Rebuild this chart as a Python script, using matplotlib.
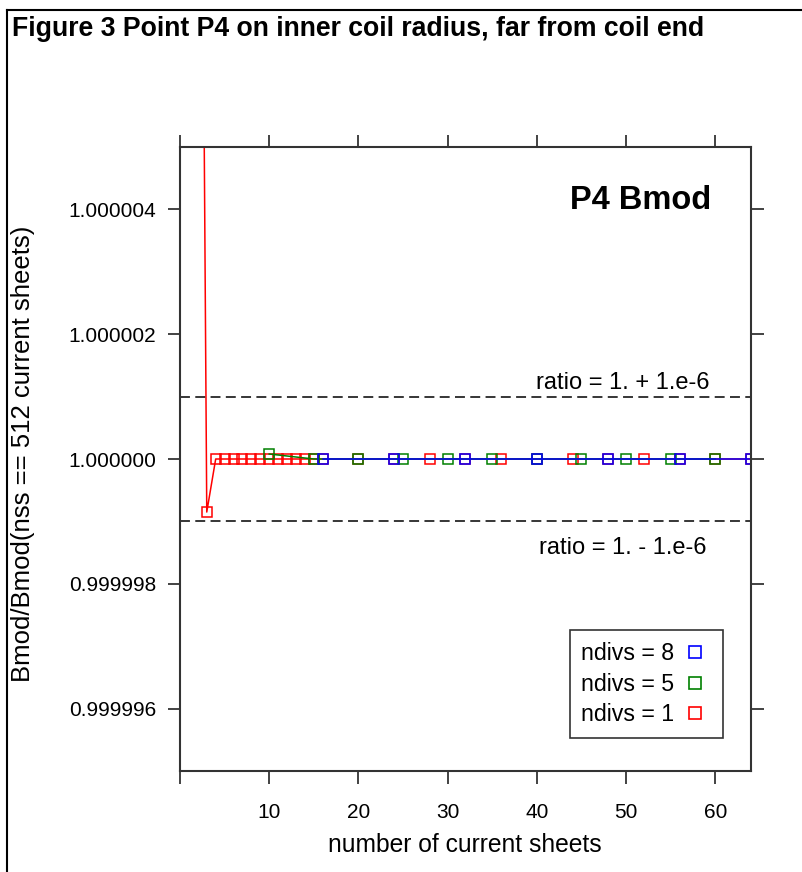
import matplotlib
matplotlib.use("Agg")
from matplotlib import pyplot as plt
from matplotlib.lines import Line2D

plt.rcParams['font.family'] = ['Liberation Sans', 'DejaVu Sans']

# ndivs = 1 (red): every sheet count up to 16, then every 4th
x_nd1 = [2, 3, 4, 5, 6, 7, 8, 9, 10, 11, 12, 13, 14, 15, 16,
         20, 24, 28, 32, 36, 40, 44, 48, 52, 56, 60, 64]
y_nd1 = [1.00002, 0.99999915, 1.0000000, 1.0000000, 1.0000000, 1.0000000,
         1.0000000, 1.0000000, 1.0000000, 1.0000000, 1.0000000, 1.0000000,
         1.0000000, 1.0000000, 1.0000000, 1.0000000, 1.0000000, 1.0000000,
         1.0000000, 1.0000000, 1.0000000, 1.0000000, 1.0000000, 1.0000000,
         1.0000000, 1.0000000, 1.0000000]

# ndivs = 5 (green)
x_nd5 = [10, 15, 20, 25, 30, 35, 40, 45, 50, 55, 60]
y_nd5 = [1.00000008, 1.0000000, 1.0000000, 1.0000000, 1.0000000, 1.0000000,
         1.0000000, 1.0000000, 1.0000000, 1.0000000, 1.0000000]

# ndivs = 8 (blue)
x_nd8 = [16, 24, 32, 40, 48, 56, 64]
y_nd8 = [1.0000000, 1.0000000, 1.0000000, 1.0000000, 1.0000000, 1.0000000, 1.0000000]

xticks = [0, 10, 20, 30, 40, 50, 60]
xticklabels = ['', '10', '20', '30', '40', '50', '60']
yticks = [0.999996, 0.999998, 1.000000, 1.000002, 1.000004]
yticklabels = ['0.999996', '0.999998', '1.000000', '1.000002', '1.000004']

ratio_hi = 1.000001
ratio_lo = 0.999999

RED = '#FF0000'
GREEN = '#008000'
BLUE = '#0000FF'

W, H = 803, 872
fig = plt.figure(figsize=(W / 100, H / 100), dpi=100)

# outer frame (only top and left edges show in the original)
fig.add_artist(Line2D([7/W, 1], [1 - 10/H, 1 - 10/H], transform=fig.transFigure,
                      color='black', lw=1.5))
fig.add_artist(Line2D([7/W, 7/W], [0, 1 - 10/H], transform=fig.transFigure,
                      color='black', lw=1.5))
fig.text(12/W, 1 - 29/H, 'Figure 3 Point P4 on inner coil radius, far from coil end',
         fontsize=19.2, fontweight='bold', va='center', ha='left')

ax = fig.add_axes([180/W, 1 - 771/H, 571/W, 624/H])

mk = dict(marker='s', markersize=7, markerfacecolor='none', markeredgewidth=1.1, lw=1.1)
ax.plot(x_nd1, y_nd1, color=RED, markeredgecolor=RED, **mk)
ax.plot(x_nd5, y_nd5, color=GREEN, markeredgecolor=GREEN, **mk)
ax.plot(x_nd8, y_nd8, color=BLUE, markeredgecolor=BLUE, **mk)

ax.axhline(ratio_hi, color='black', lw=1.1, ls=(0, (6.5, 3.5)))
ax.axhline(ratio_lo, color='black', lw=1.1, ls=(0, (6.5, 3.5)))
ax.text(0.776, ratio_hi + 0.00000022, 'ratio = 1. + 1.e-6', ha='center', va='center',
        fontsize=17, transform=ax.get_yaxis_transform())
ax.text(0.776, ratio_lo - 0.00000043, 'ratio = 1. - 1.e-6', ha='center', va='center',
        fontsize=17, transform=ax.get_yaxis_transform())

ax.text(0.807, 0.915, 'P4 Bmod', transform=ax.transAxes, ha='center', va='center',
        fontsize=23.5, fontweight='bold')

ax.set_xlim(0, 64)
ax.set_ylim(0.999995, 1.000005)
ax.set_xticks(xticks, labels=xticklabels)
ax.set_yticks(yticks, labels=yticklabels)
ax.tick_params(axis='both', direction='out', length=9, width=1.2, labelsize=15,
               top=True, right=True, colors='#222222', labelcolor='black')
ax.tick_params(axis='y', pad=8)
ax.tick_params(axis='x', pad=14)
for s in ax.spines.values():
    s.set_linewidth(1.5)
    s.set_color('#333333')

fig.text(465/W, 1 - 845/H, 'number of current sheets', fontsize=17.7,
         ha='center', va='center')
fig.text(23/W, 1 - 454/H, 'Bmod/Bmod(nss == 512 current sheets)', fontsize=18.5,
         rotation=90, ha='center', va='center')

handles = [Line2D([], [], ls='none', marker='s', markersize=9, markerfacecolor='none',
                  markeredgecolor=c, markeredgewidth=1.2) for c in (BLUE, GREEN, RED)]
leg = ax.legend(handles, ['ndivs = 8', 'ndivs = 5', 'ndivs = 1'], loc='lower right',
                bbox_to_anchor=(0.951, 0.053), borderaxespad=0, markerfirst=False,
                fontsize=16.7, frameon=True, fancybox=False, handlelength=1.4,
                handletextpad=0.2, labelspacing=0.33, borderpad=0.5)
leg.get_frame().set_edgecolor('black')
leg.get_frame().set_linewidth(1.2)

fig.savefig('out.png', dpi=100)
